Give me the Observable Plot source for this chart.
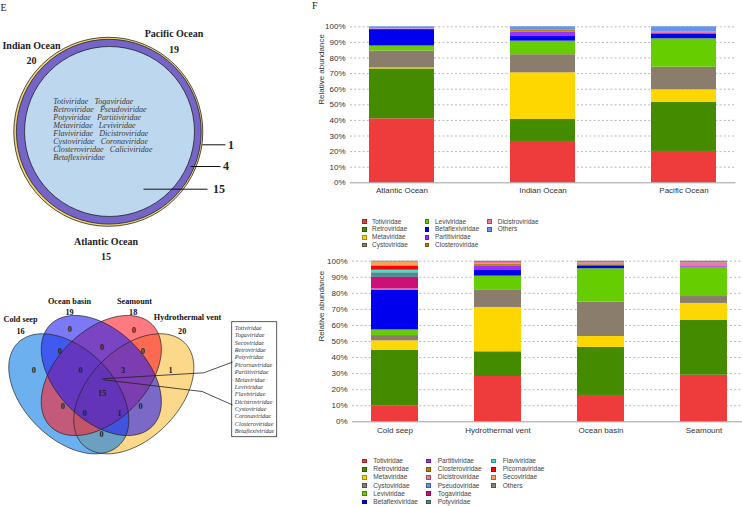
<!DOCTYPE html>
<html><head><meta charset="utf-8">
<script src="https://cdn.jsdelivr.net/npm/d3@7"></script>
<script src="https://cdn.jsdelivr.net/npm/@observablehq/plot@0.6"></script>
<style>
body{margin:0;background:#fff;}
#root{position:relative;width:742px;height:506px;overflow:hidden;background:#fff;}
#root svg{position:absolute;max-width:none;}
.lg{position:absolute;font-family:"Liberation Sans",Arial,sans-serif;color:#444;white-space:nowrap;}
.sw{position:absolute;box-sizing:border-box;border:0.5px solid rgba(0,0,0,0.35);}
</style></head>
<body><div id="root"></div>
<script>
// ===================== DATA =====================
// Panel E, top: concentric Venn of oceans
const oceanSetNames = ["Indian Ocean", "Pacific Ocean", "Atlantic Ocean"];
const oceanSetTotals = [20, 19, 15];
const oceanRegionCounts = [1, 4, 15]; // Indian only, Indian∩Pacific, all three
const oceanSharedFamilies = ["Totiviridae","Togaviridae","Retroviridae","Pseudoviridae","Potyviridae","Partitiviridae","Metaviridae","Leviviridae","Flaviviridae","Dicistroviridae","Cystoviridae","Coronaviridae","Closteroviridae","Caliciviridae","Betaflexiviridae"];

// Panel E, bottom: 4-set Venn of habitats (code order: Cold seep, Ocean basin, Seamount, Hydrothermal vent)
const habitatSetNames = ["Cold seep","Ocean basin","Seamount","Hydrothermal vent"];
const habitatSetTotals = [16, 19, 18, 20];
const habitatRegionCodes  = ["0100","0010","1100","0110","0011","1000","0001","1110","0111","1111","1010","0101","1011","1101","1001"];
const habitatRegionCounts = [0,0,0,0,0,0,1,0,3,15,0,0,0,1,0];
const habitatSharedFamilies = ["Totiviridae","Togaviridae","Secoviridae","Retroviridae","Potyviridae","Picornaviridae","Partitiviridae","Metaviridae","Leviviridae","Flaviviridae","Dicistroviridae","Cystoviridae","Coronaviridae","Closteroviridae","Betaflexiviridae"];

// Panel F, top: relative abundance (%) by ocean
const oceanSites = ["Atlantic Ocean","Indian Ocean","Pacific Ocean"];
const oceanFamilies = ["Totiviridae","Retroviridae","Metaviridae","Cystoviridae","Leviviridae","Betaflexiviridae","Partitiviridae","Closteroviridae","Dicistroviridae","Others"];
const atlanticPct = [41.0, 32.0, 0.6, 10.9, 3.2, 10.5, 0, 0, 0.5, 1.3];
const indianPct   = [26.5, 14.1, 29.9, 11.6, 8.7, 3.0, 2.7, 1.6, 0, 1.9];
const pacificPct  = [20.1, 31.4, 8.1, 14.5, 18.2, 3.2, 0, 0, 1.4, 3.1];

// Panel F, bottom: relative abundance (%) by habitat
const habitatSites = ["Cold seep","Hydrothermal vent","Ocean basin","Seamount"];
const habitatFamilies = ["Totiviridae","Retroviridae","Metaviridae","Cystoviridae","Leviviridae","Betaflexiviridae","Partitiviridae","Closteroviridae","Dicistroviridae","Pseudoviridae","Togaviridae","Potyviridae","Flaviviridae","Picornaviridae","Secoviridae","Others"];
const coldSeepPct     = [10.0,34.6,5.8,3.3,3.5,24.9,0,0,0.6,0,7.2,2.9,1.6,2.7,2.3,0.6];
const hydrothermalPct = [28.2,15.4,27.6,11.0,8.5,3.5,2.5,1.4,1.1,0,0,0,0,0,0,0.8];
const oceanBasinPct   = [16.4,29.9,6.8,21.4,20.8,1.4,0.8,0.5,1.0,0,0,0,0,0,0,1.0];
const seamountPct     = [29.0,34.1,10.6,4.3,18.1,0,0.5,0,2.4,0,0,0,0,0,0,1.0];

const yTicks = [0,10,20,30,40,50,60,70,80,90,100];

// ===================== STYLES / LAYOUT =====================
const SERIF = "'Liberation Serif','Times New Roman',serif";
const SANS = "'Liberation Sans',Arial,sans-serif";
const oceanColors = ["#ee3b3b","#458b00","#ffd700","#8b7d6b","#66cd00","#0000ee","#9b30ff","#b8860b","#ee799f","#6495ed"];
const habitatColors = ["#ee3b3b","#458b00","#ffd700","#8b7d6b","#66cd00","#0000ee","#9b30ff","#b8860b","#ee799f","#6495ed","#cd1076","#528b8b","#40e0d0","#ff0000","#f4a460","#8b8378"];

const root = document.getElementById("root");
function place(el, l, t){ el.style.left = l+"px"; el.style.top = t+"px"; root.appendChild(el); }

// ---------- Left panel (Venn diagrams) ----------
const ringGeom = [ {cx:107.8, cy:131.3, r:94.5, fill:"#f3d470"}, {cx:108.3, cy:131.2, r:92.4, fill:"#7565c8"}, {cx:109, cy:131, r:85, fill:"#bdd7ee"} ];
const ringLeaders = [ {x1:201.7, x2:225, y:144.3, lx:230.5}, {x1:190, x2:220, y:166, lx:225.5}, {x1:143, x2:207, y:188.7, lx:218.5} ];
const oceanLabelPos = [ {x:31, y:45}, {x:173.5, y:33.7}, {x:105.5, y:241} ];

const ellGeom = [ // Cold seep, Ocean basin, Seamount, Hydrothermal vent
  {cx:68.3, cy:393.3, a:72, b:45, ang:45, fill:"#0a7be6"},
  {cx:100.8, cy:375, a:72, b:45, ang:45, fill:"#2320ee"},
  {cx:100.8, cy:375, a:72, b:45, ang:135, fill:"#ff212b"},
  {cx:133.3, cy:393.3, a:72, b:45, ang:135, fill:"#fabe3c"}
];
const ellDrawOrder = [3,0,2,1];
const habitatLabelPos = [ {x:20, y:319.3}, {x:69, y:300.7}, {x:134, y:301}, {x:187, y:316.7} ];
const habitatTotalPos = [ {x:20, y:331}, {x:69, y:312.3}, {x:132.7, y:312.3}, {x:181.7, y:331} ];
const regionPos = {"0100":[69.3,329],"0010":[133.3,330],"1100":[59.3,350.7],"0110":[101.7,347.3],"0011":[142.3,350.7],
  "1000":[33.3,370],"0001":[170,370],"1110":[80,370],"0111":[122.7,370],"1111":[101.7,393.3],
  "1010":[62.3,405.7],"0101":[140,405.7],"1011":[84.3,412.7],"1101":[119,412.7],"1001":[101,434]};
const boxGeom = {x1:231.7, y1:321.7, x2:276.7, y2:436.7};
const boxLeaders = [ [[101.7,378.3],[203.3,372.3],[231.7,361.7]], [[103.3,379.3],[201.7,391],[231.7,404.3]] ];

function ellipsePts(g, k){
  const th = g.ang*Math.PI/180, pts = [];
  for (let i=0;i<120;i++){ const t = i/120*2*Math.PI;
    pts.push({k, x: g.cx + g.a*Math.cos(t)*Math.cos(th) - g.b*Math.sin(t)*Math.sin(th),
                 y: g.cy + g.a*Math.cos(t)*Math.sin(th) + g.b*Math.sin(t)*Math.cos(th)}); }
  return pts;
}

const leftMarks = [];
leftMarks.push(Plot.text(["E"], {x:0, y:7, text:d=>d, textAnchor:"start", fontFamily:SERIF, fontSize:10, fill:"#222"}));
ringGeom.forEach(g => leftMarks.push(Plot.dot([g], {x:"cx", y:"cy", r:g.r, fill:g.fill, stroke:"#222", strokeWidth:0.8})));
const pairLines = d3.range(Math.ceil(oceanSharedFamilies.length/2)).map(i => ({
  text: oceanSharedFamilies.slice(2*i, 2*i+2).join("\u00a0\u00a0\u00a0"), i}));
leftMarks.push(Plot.text(pairLines, {x:52.7, y:d=>100.7+d.i*8.1, text:"text", textAnchor:"start", fontFamily:SERIF, fontStyle:"italic", fontSize:8.1, fill:"#3a3a3a"}));
const ringRows = oceanRegionCounts.map((c,i)=>({c, ...ringLeaders[i]}));
leftMarks.push(Plot.link(ringRows, {x1:"x1", x2:"x2", y1:"y", y2:"y", stroke:"#111", strokeWidth:1}));
leftMarks.push(Plot.text(ringRows, {x:"lx", y:"y", text:d=>String(d.c), fontFamily:SERIF, fontWeight:"bold", fontSize:12, fill:"#222"}));
const oceanLab = oceanSetNames.map((n,i)=>({n, t:oceanSetTotals[i], ...oceanLabelPos[i]}));
leftMarks.push(Plot.text(oceanLab, {x:"x", y:"y", text:"n", fontFamily:SERIF, fontWeight:"bold", fontSize:10, fill:"#222"}));
leftMarks.push(Plot.text(oceanLab, {x:"x", y:d=>d.y+15.5, text:d=>String(d.t), fontFamily:SERIF, fontWeight:"bold", fontSize:10, fill:"#222"}));

ellDrawOrder.forEach(k => leftMarks.push(Plot.line(ellipsePts(ellGeom[k],k), {x:"x", y:"y", curve:"linear-closed", fill:ellGeom[k].fill, fillOpacity:0.6, stroke:"none"})));
ellDrawOrder.forEach(k => leftMarks.push(Plot.line(ellipsePts(ellGeom[k],k), {x:"x", y:"y", curve:"linear-closed", fill:"none", stroke:"#222", strokeWidth:0.7})));
const regionRows = habitatRegionCodes.map((c,i)=>({c, n:habitatRegionCounts[i], x:regionPos[c][0], y:regionPos[c][1]}));
leftMarks.push(Plot.text(regionRows, {x:"x", y:"y", text:d=>String(d.n), fontFamily:SERIF, fontWeight:"bold", fontSize:8.3, fill:"#222"}));
const habLab = habitatSetNames.map((n,i)=>({n, t:habitatSetTotals[i], p:habitatLabelPos[i], q:habitatTotalPos[i]}));
leftMarks.push(Plot.text(habLab, {x:d=>d.p.x, y:d=>d.p.y, text:"n", fontFamily:SERIF, fontWeight:"bold", fontSize:8.2, fill:"#111"}));
leftMarks.push(Plot.text(habLab, {x:d=>d.q.x, y:d=>d.q.y, text:d=>String(d.t), fontFamily:SERIF, fontWeight:"bold", fontSize:8.2, fill:"#111"}));
leftMarks.push(Plot.rect([boxGeom], {x1:"x1", x2:"x2", y1:"y1", y2:"y2", fill:"#fff", stroke:"#333", strokeWidth:0.8}));
leftMarks.push(Plot.text(habitatSharedFamilies.map((f,i)=>({f,i})), {x:boxGeom.x1+2.6, y:d=>boxGeom.y1+5.6+d.i*7.39, text:"f", textAnchor:"start", fontFamily:SERIF, fontStyle:"italic", fontSize:6.2, fill:"#333"}));
boxLeaders.forEach(pl => leftMarks.push(Plot.line(pl, {x:d=>d[0], y:d=>d[1], stroke:"#222", strokeWidth:0.8})));

const leftChart = Plot.plot({
  width:300, height:506, margin:0,
  x:{domain:[0,300], range:[0,300], axis:null},
  y:{domain:[0,506], range:[0,506], axis:null},
  style:{background:"transparent", overflow:"visible"},
  marks: leftMarks
});
place(leftChart, 0, 0);

// ---------- Right panel (stacked bars) ----------
function stacked({sites, families, values, colors, width, height, mt, mb, ml, mr, pi, po, labelDx, xPad}){
  const rows = [];
  sites.forEach((s,i)=>families.forEach((f,j)=>{ if (values[i][j] > 0) rows.push({site:s, family:f, value:values[i][j]}); }));
  return Plot.plot({
    width, height, marginTop:mt, marginBottom:mb, marginLeft:ml, marginRight:mr,
    x:{domain:sites, paddingInner:pi, paddingOuter:po, label:null},
    y:{domain:[0,100], label:null},
    color:{domain:families, range:colors},
    style:{fontFamily:SANS, fontSize:"8px", color:"#333", background:"transparent", overflow:"visible"},
    marks:[
      Plot.gridY(yTicks.slice(1), {stroke:"#999", strokeOpacity:1, strokeWidth:0.7, strokeDasharray:"2,2.2"}),
      Plot.barY(rows, {x:"site", y:"value", fill:"family"}),
      Plot.ruleY([0], {stroke:"#888", strokeWidth:0.8}),
      Plot.axisY(yTicks, {tickFormat:d=>d+"%", tickSize:0, tickPadding:5, label:null, fill:"#333"}),
      Plot.axisX({tickSize:0, tickPadding:xPad, label:null, fill:"#333"}),
      Plot.text(["Relative abundance"], {frameAnchor:"left", dx:labelDx, rotate:-90, text:d=>d, fill:"#333", fontSize:8})
    ]
  });
}
const topChart = stacked({sites:oceanSites, families:oceanFamilies, values:[atlanticPct, indianPct, pacificPct], colors:oceanColors,
  width:442, height:200, mt:26.3, mb:17.7, ml:50, mr:6.5, pi:0.54, po:0.1345, labelDx:-29, xPad:5});
place(topChart, 300, 0);
const bottomChart = stacked({sites:habitatSites, families:habitatFamilies, values:[coldSeepPct, hydrothermalPct, oceanBasinPct, seamountPct], colors:habitatColors,
  width:446, height:190, mt:10.7, mb:18.7, ml:52, mr:0, pi:0.546, po:0.1765, labelDx:-31, xPad:6});
place(bottomChart, 300, 250);

const F = document.createElement("div"); F.className="lg"; F.textContent="F";
F.style.fontFamily = SERIF; F.style.fontSize="10px"; F.style.color="#222"; F.style.lineHeight="10px";
place(F, 312, 1);

function legend(families, colors, swX, txX, y0, dy, rows, fs){
  families.forEach((f,i)=>{
    const c = Math.floor(i/rows), r = i%rows, y = y0 + r*dy;
    const sw = document.createElement("div"); sw.className="sw";
    sw.style.width="4.8px"; sw.style.height="4.8px"; sw.style.background=colors[i];
    place(sw, swX[c]-2.4, y-2.4);
    const t = document.createElement("div"); t.className="lg"; t.textContent=f;
    t.style.fontSize=fs+"px"; t.style.lineHeight="8px";
    place(t, txX[c], y-4);
  });
}
legend(oceanFamilies, oceanColors, [364.2,426.9,489.3], [372,435,497.7], 221.7, 7.75, 4, 6.5);
legend(habitatFamilies, habitatColors, [364.2,428.5,493.5], [373.3,437.7,502.7], 461, 8.2, 6, 6.6);
</script></body></html>
